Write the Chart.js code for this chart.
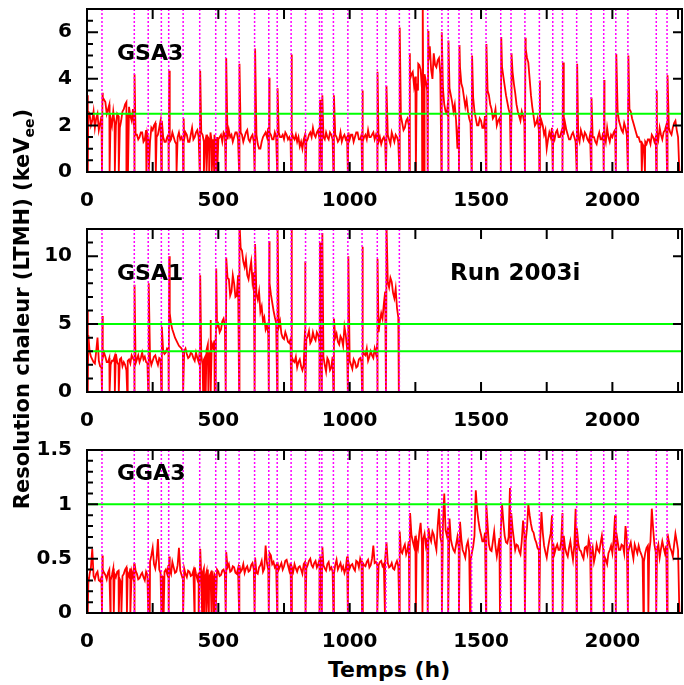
<!DOCTYPE html>
<html>
<head>
<meta charset="utf-8">
<title>Resolution chaleur - Run 2003i</title>
<script src="https://cdn.jsdelivr.net/npm/chart.js@4.4.1/dist/chart.umd.min.js"></script>
<style>
  body { margin: 0; background: #fff; }
  #page { position: relative; width: 684px; height: 685px; overflow: hidden;
          font-family: "DejaVu Sans", sans-serif; font-weight: bold; color: #000; }
  canvas { position: absolute; left: 0; }
  .lbl { position: absolute; white-space: nowrap; line-height: 1; }
  #ytitle { position: absolute; left: -228px; top: 294px; width: 500px; height: 30px;
            line-height: 30px; text-align: center; font-size: 21px; white-space: nowrap;
            transform: rotate(-90deg); }
  #ytitle span { font-size: 14px; vertical-align: -5px; line-height: 0; }
</style>
</head>
<body>
<div id="page">
  <canvas id="chartGSA3" width="684" height="210" style="top:0px"></canvas>
  <canvas id="chartGSA1" width="684" height="210" style="top:220px"></canvas>
  <canvas id="chartGGA3" width="684" height="210" style="top:441px"></canvas>
  <div class="lbl" style="left:117px; top:42px; font-size:22px;">GSA3</div>
  <div class="lbl" style="left:117px; top:262px; font-size:22px;">GSA1</div>
  <div class="lbl" style="left:450px; top:261px; font-size:23px;">Run 2003i</div>
  <div class="lbl" style="left:117px; top:462px; font-size:22px;">GGA3</div>
  <div class="lbl" style="left:328px; top:659px; font-size:22px;">Temps (h)</div>
  <div id="ytitle">Resolution chaleur (LTMH) (keV<span>ee</span>)</div>
</div>
<script>
// Axe des temps (h)
const xMax = 2265;
const xTicks = [0, 250, 500, 750, 1000, 1250, 1500, 1750, 2000, 2250];

// Calibrations (lignes pointillées magenta)
const calibTimes = [57, 180, 233, 283, 311, 366, 429, 490, 528, 579, 638, 692, 724, 777, 832,
  885, 894, 938, 993, 1047, 1105, 1138, 1189, 1227, 1297, 1351, 1375, 1416, 1464, 1519,
  1575, 1614, 1667, 1722, 1773, 1810, 1864, 1919, 1967, 2013, 2059, 2167, 2208];

// ---- GSA3 : valeurs à t = 0, 10, 20 ... 2250 h
const gsa3Base = [
  3.3, 2.5, 2.2, 1.9, 2.5, 2.1, 3.2, 3.0, 2.7, 2.3,
  2.6, 2.0, 2.4, 2.2, 2.7, 3.0, 2.8, 2.2, 1.8, 1.6,
  1.5, 1.7, 1.4, 1.6, 1.3, 1.8, 2.1, 1.6, 2.2, 1.5,
  1.3, 1.6, 1.4, 1.5, 1.2, 1.7, 1.5, 1.4, 1.6, 1.3,
  1.9, 1.5, 1.8, 1.4, 1.6, 1.3, 1.5, 1.7, 1.4, 1.2,
  1.4, 1.6, 1.7, 1.5, 1.8, 1.6, 1.5, 1.7, 1.4, 1.6,
  1.5, 1.8, 1.3, 1.6, 1.4, 1.2, 1.0, 1.5, 1.7, 1.9,
  1.6, 1.4, 1.5, 1.7, 1.5, 1.4, 1.6, 1.5, 1.7, 1.4,
  1.3, 1.1, 1.0, 1.6, 1.4, 1.7, 1.9, 1.5, 1.8, 1.6,
  1.5, 1.7, 1.4, 1.6, 1.9, 1.5, 1.4, 1.3, 1.6, 1.5,
  1.4, 1.6, 1.5, 1.7, 1.4, 1.3, 1.6, 1.8, 1.5, 1.7,
  1.6, 1.3, 1.2, 1.5, 1.1, 1.4, 1.7, 1.3, 1.5, 1.8,
  2.1, 1.9, 2.3, 4.0, 4.3, 4.1, 3.5, 4.4, 3.3, 3.9,
  4.8, 4.4, 5.1, 4.5, 4.9, 3.2, 2.9, 2.5, 3.6, 3.0,
  2.9, 1.0, 4.5, 3.6, 2.8, 2.6, 2.1, 3.2, 2.3, 2.0,
  2.2, 1.9, 4.0, 3.3, 2.7, 2.4, 2.0, 2.3, 4.5, 3.7,
  3.0, 2.5, 4.3, 3.4, 2.6, 2.2, 2.4, 5.3, 4.7, 3.3,
  2.4, 2.1, 1.8, 2.2, 1.6, 1.0, 1.7, 1.9, 1.4, 1.8,
  1.5, 1.9, 2.1, 1.6, 1.4, 1.7, 1.3, 1.5, 1.8, 1.4,
  1.6, 1.3, 1.8, 1.5, 1.2, 1.7, 1.4, 1.6, 1.9, 1.3,
  1.5, 1.8, 2.6, 2.0, 1.7, 1.9, 3.1, 2.6, 2.1, 1.7,
  1.5, 1.3, 1.1, 1.2, 1.4, 1.6, 1.3, 1.7, 1.9, 1.4,
  1.8, 2.3, 1.7, 1.9, 2.2, 1.5,
];
// GSA3 : valeurs à t = 5, 15, 25 ... 2245 h
const gsa3Mid = [
  2.6, 2.0, 2.6, 2.3, 1.8, 2.4, 3.1, 2.5, 2.9, 2.0,
  2.1, 2.5, 1.9, 2.6, 2.9, 2.5, 2.4, 2.7, 1.6, 1.4,
  1.7, 1.3, 1.8, 1.3, 1.9, 2.0, 1.5, 1.9, 1.7, 1.3,
  1.5, 1.3, 1.7, 1.3, 1.5, 1.4, 1.3, 1.7, 1.3, 1.6,
  1.4, 1.7, 1.5, 1.7, 1.3, 1.6, 1.4, 1.3, 1.6, 1.5,
  1.5, 1.3, 1.6, 1.4, 1.5, 1.3, 1.7, 1.4, 1.7, 1.3,
  1.7, 1.4, 1.5, 1.3, 1.6, 1.0, 1.3, 1.6, 1.5, 1.7,
  1.4, 1.7, 1.3, 1.5, 1.6, 1.7, 1.4, 1.3, 1.5, 1.6,
  1.5, 1.3, 1.4, 1.3, 1.6, 1.5, 1.6, 1.7, 1.4, 1.8,
  1.4, 1.5, 1.7, 1.4, 1.6, 1.3, 1.7, 1.5, 1.4, 1.7,
  1.6, 1.3, 1.7, 1.4, 1.6, 1.5, 1.4, 1.5, 1.6, 1.4,
  1.4, 1.5, 1.4, 1.3, 1.6, 1.2, 1.5, 1.6, 1.3, 2.4,
  1.8, 2.2, 2.0, 4.2, 3.7, 3.8, 4.6, 3.6, 4.2, 3.5,
  5.4, 4.0, 4.6, 4.8, 4.2, 3.6, 2.6, 3.1, 3.3, 2.6,
  2.2, 2.0, 3.8, 3.2, 3.1, 2.3, 2.5, 2.6, 2.0, 2.3,
  1.9, 2.4, 3.5, 2.9, 2.3, 2.7, 2.2, 1.9, 4.1, 3.3,
  2.7, 2.2, 3.8, 2.9, 2.4, 2.6, 2.1, 4.9, 4.0, 2.8,
  2.0, 2.3, 1.9, 2.0, 1.8, 1.4, 1.5, 1.6, 1.7, 1.5,
  1.7, 1.6, 1.8, 1.4, 1.6, 1.5, 1.7, 1.3, 1.6, 1.7,
  1.4, 1.6, 1.5, 1.3, 1.5, 1.4, 1.7, 1.3, 1.5, 1.6,
  1.7, 2.3, 2.2, 1.8, 2.1, 1.6, 2.7, 2.3, 1.9, 1.5,
  1.3, 1.2, 1.3, 1.4, 1.2, 1.5, 1.5, 1.4, 1.6, 1.7,
  2.0, 1.9, 1.6, 2.1, 1.8,
];
const gsa3Drops = [3, 57, 86, 106, 121, 150, 156, 180, 226, 235, 262, 283, 311, 341, 366, 429,
  445, 455, 465, 475, 484, 490, 496, 528, 579, 638, 692, 724, 777, 832, 885, 894, 938, 993,
  1047, 1105, 1138, 1189, 1227, 1252, 1276, 1284, 1297, 1349, 1375, 1416, 1464, 1519, 1575,
  1614, 1667, 1722, 1773, 1810, 1864, 1919, 1967, 2013, 2059, 2112, 2124, 2167, 2208, 2255];
const gsa3PeakT = [59, 182, 285, 313, 368, 431, 530, 581, 640, 694, 726, 779, 887, 896, 940,
  1049, 1107, 1140, 1191, 1229, 1261, 1278, 1299, 1351, 1377, 1418, 1466, 1521, 1577, 1616,
  1669, 1724, 1812, 1866, 1921, 1969, 2015, 2061, 2169, 2210];
const gsa3PeakV = [3.4, 4.2, 2.2, 4.35, 2.3, 4.35, 4.9, 4.65, 5.3, 4.05, 3.6, 5.05, 3.1, 3.3, 3.3,
  3.5, 4.3, 3.7, 6.2, 5.1, 4.65, 7.5, 6.05, 6.0, 5.65, 5.45, 5.0, 5.5, 5.8, 5.1,
  5.76, 3.93, 4.7, 4.65, 3.2, 3.95, 5.07, 5.0, 3.5, 4.15];
const gsa3Limits = [2.5];
const gsa3Major = [0, 2, 4, 6];
const gsa3Minor = [0.5, 1, 1.5, 2.5, 3, 3.5, 4.5, 5, 5.5, 6.5];

// ---- GSA1 : valeurs à t = 0, 10 ... 1190 h, détecteur arrêté ensuite
const gsa1Base = [
  6.0, 3.0, 2.4, 2.1, 4.0, 1.9, 2.5, 2.6, 2.2, 2.0,
  2.3, 2.8, 2.0, 2.5, 2.2, 1.6, 2.4, 2.7, 2.3, 2.4,
  2.2, 2.9, 2.6, 2.1, 2.5, 2.3, 2.7, 2.0, 2.4, 3.0,
  2.9, 3.1, 5.0, 4.3, 3.8, 3.4, 3.2, 3.0, 2.8, 2.6,
  2.8, 2.3, 2.5, 3.2, 2.0, 2.6, 3.5, 3.0, 3.3, 4.2,
  5.0, 4.6, 5.4, 7.6, 8.3, 7.4, 8.0, 7.1, 9.8, 10.4,
  9.2, 8.6, 9.0, 8.1, 7.6, 6.8, 5.9, 5.2, 4.6, 4.3,
  7.2, 6.0, 5.1, 4.8, 4.3, 3.9, 4.1, 3.6, 2.6, 2.2,
  1.8, 2.4, 1.6, 4.6, 4.1, 3.6, 4.4, 3.8, 4.2, 4.6,
  2.6, 1.5, 2.3, 1.8, 3.6, 4.3, 3.5, 3.9, 4.8, 3.2,
  2.3, 1.7, 2.2, 1.9, 2.5, 3.1, 2.7, 2.3, 3.0, 2.5,
  2.8, 4.4, 5.8, 6.5, 8.8, 7.7, 8.1, 6.9, 6.2, 0,
];
// GSA1 : valeurs à t = 5, 15 ... 1185 h
const gsa1Mid = [
  4.2, 2.6, 2.2, 3.0, 2.3, 1.8, 2.9, 2.2, 2.5, 2.3,
  2.6, 2.2, 2.4, 1.9, 2.0, 2.3, 2.1, 2.5, 2.1, 2.7,
  2.5, 2.4, 2.2, 2.6, 2.0, 2.6, 2.3, 2.5, 2.7, 2.8,
  3.2, 5.8, 4.6, 4.0, 3.6, 3.3, 2.9, 3.2, 2.5, 2.9,
  2.5, 2.9, 2.2, 2.7, 2.4, 3.1, 2.8, 3.6, 3.8, 4.8,
  4.4, 5.2, 4.8, 8.4, 7.1, 8.6, 7.0, 8.6, 10.6, 9.6,
  9.8, 8.3, 9.6, 8.8, 7.2, 7.4, 6.3, 5.5, 4.9, 8.0,
  6.6, 5.5, 4.5, 5.2, 4.0, 4.4, 3.7, 3.9, 2.3, 2.6,
  2.2, 1.9, 2.0, 3.9, 4.5, 3.8, 4.0, 4.4, 3.6, 4.0,
  2.0, 2.5, 1.6, 2.6, 4.0, 3.7, 4.1, 3.4, 4.2, 2.8,
  2.0, 2.4, 1.8, 2.4, 2.2, 2.8, 3.2, 2.6, 2.7, 3.2,
  3.6, 5.2, 5.4, 7.4, 8.1, 8.4, 7.3, 7.6, 5.5,
];
const gsa1Drops = [3, 57, 86, 106, 121, 153, 180, 233, 283, 311, 366, 430, 442, 452, 462, 472,
  486, 490, 528, 579, 638, 692, 724, 777, 832, 885, 894, 938, 993, 1047, 1105, 1138, 1187, 2255];
const gsa1PeakT = [59, 182, 235, 285, 313, 431, 470, 492, 530, 581, 640, 694, 726, 779, 830,
  887, 896, 940, 995, 1049, 1107, 1140];
const gsa1PeakV = [5.6, 7.9, 8.0, 4.8, 10.0, 8.6, 5.3, 9.1, 9.9, 12.5, 10.9, 11.1, 12.5, 12.5, 9.6,
  11.0, 11.7, 5.4, 10.0, 10.7, 9.8, 12.5];
const gsa1Limits = [3, 5];
const gsa1LastCalib = 1189;
const gsa1Major = [0, 5, 10];
const gsa1Minor = [1, 2, 3, 4, 6, 7, 8, 9, 11];

// ---- GGA3 : valeurs à t = 0, 10 ... 2250 h
const gga3Base = [
  0.33, 0.36, 0.59, 0.31, 0.38, 0.29, 0.40, 0.35, 0.37, 0.30,
  0.41, 0.33, 0.39, 0.28, 0.36, 0.42, 0.34, 0.38, 0.46, 0.36,
  0.32, 0.37, 0.30, 0.35, 0.47, 0.60, 0.41, 0.68, 0.37, 0.33,
  0.40, 0.44, 0.36, 0.42, 0.38, 0.60, 0.35, 0.41, 0.33, 0.38,
  0.35, 0.42, 0.31, 0.44, 0.37, 0.33, 0.40, 0.36, 0.30, 0.34,
  0.38, 0.35, 0.40, 0.37, 0.45, 0.39, 0.42, 0.36, 0.44, 0.40,
  0.37, 0.43, 0.39, 0.46, 0.41, 0.36, 0.44, 0.38, 0.62, 0.40,
  0.53, 0.47, 0.44, 0.40, 0.46, 0.43, 0.49, 0.39, 0.42, 0.45,
  0.38, 0.43, 0.36, 0.47, 0.44, 0.50, 0.42, 0.48, 0.45, 0.52,
  0.44, 0.39, 0.47, 0.42, 0.36, 0.49, 0.43, 0.40, 0.37, 0.52,
  0.41, 0.45, 0.39, 0.47, 0.50, 0.46, 0.43, 0.49, 0.44, 0.62,
  0.47, 0.44, 0.48, 0.45, 0.65, 0.42, 0.46, 0.40, 0.48, 0.61,
  0.55, 0.63, 0.58, 0.92, 0.66, 0.71, 0.60, 0.83, 0.68, 0.62,
  0.78, 0.66, 0.72, 0.58, 0.96, 0.64, 1.10, 0.71, 0.87, 0.62,
  0.56, 0.70, 0.84, 0.58, 0.51, 0.66, 0.48, 0.61, 1.13, 0.85,
  0.72, 0.66, 1.00, 0.63, 0.57, 0.75, 0.52, 0.69, 1.00, 0.71,
  0.64, 1.15, 0.78, 0.58, 0.62, 0.54, 0.85, 0.66, 1.00, 0.82,
  0.74, 0.65, 0.58, 0.93, 0.62, 0.51, 0.67, 0.90, 0.55, 0.63,
  0.58, 0.92, 0.60, 0.52, 0.66, 0.49, 0.96, 0.64, 0.57, 0.50,
  0.61, 0.68, 0.54, 0.47, 0.63, 0.56, 0.71, 0.52, 0.45, 0.58,
  0.55, 0.90, 0.66, 0.58, 0.62, 0.80, 0.56, 0.65, 0.50, 0.59,
  0.62, 0.54, 0.47, 0.60, 0.56, 0.96, 0.63, 0.58, 0.51, 0.66,
  0.55, 0.73, 0.60, 0.52, 0.73, 0.58,
];
// GGA3 : valeurs à t = 5, 15 ... 2245 h
const gga3Mid = [
  0.27, 0.42, 0.34, 0.36, 0.30, 0.33, 0.37, 0.31, 0.40, 0.35,
  0.36, 0.38, 0.31, 0.34, 0.40, 0.37, 0.41, 0.33, 0.39, 0.31,
  0.35, 0.33, 0.38, 0.31, 0.53, 0.45, 0.50, 0.40, 0.34, 0.38,
  0.36, 0.40, 0.47, 0.37, 0.44, 0.39, 0.31, 0.36, 0.39, 0.34,
  0.39, 0.36, 0.37, 0.34, 0.41, 0.38, 0.33, 0.39, 0.36, 0.40,
  0.34, 0.39, 0.36, 0.42, 0.38, 0.43, 0.37, 0.41, 0.38, 0.45,
  0.41, 0.38, 0.44, 0.40, 0.37, 0.42, 0.48, 0.41, 0.46, 0.55,
  0.45, 0.42, 0.47, 0.43, 0.40, 0.48, 0.44, 0.46, 0.38, 0.41,
  0.42, 0.40, 0.45, 0.41, 0.48, 0.44, 0.46, 0.42, 0.49, 0.45,
  0.41, 0.45, 0.40, 0.38, 0.44, 0.40, 0.46, 0.43, 0.41, 0.47,
  0.44, 0.41, 0.48, 0.42, 0.46, 0.44, 0.47, 0.42, 0.50, 0.46,
  0.44, 0.47, 0.43, 0.50, 0.46, 0.43, 0.41, 0.45, 0.43, 0.57,
  0.60, 0.54, 0.66, 0.72, 0.61, 0.66, 0.74, 0.64, 0.73, 0.69,
  0.70, 0.75, 0.64, 0.80, 0.70, 0.82, 0.76, 0.79, 0.68, 0.58,
  0.63, 0.60, 0.68, 0.55, 0.62, 0.56, 0.55, 0.71, 0.95, 0.77,
  0.66, 0.74, 0.81, 0.58, 0.66, 0.61, 0.60, 0.75, 0.84, 0.65,
  0.70, 0.92, 0.68, 0.63, 0.57, 0.66, 0.72, 0.78, 0.90, 0.76,
  0.68, 0.60, 0.66, 0.74, 0.56, 0.60, 0.73, 0.64, 0.60, 0.58,
  0.66, 0.71, 0.55, 0.60, 0.57, 0.62, 0.78, 0.58, 0.53, 0.60,
  0.55, 0.62, 0.60, 0.53, 0.58, 0.64, 0.59, 0.49, 0.55, 0.62,
  0.68, 0.74, 0.58, 0.63, 0.55, 0.68, 0.61, 0.57, 0.63, 0.55,
  0.57, 0.50, 0.55, 0.62, 0.66, 0.78, 0.56, 0.63, 0.59, 0.60,
  0.62, 0.66, 0.57, 0.63, 0.66,
];
const gga3Drops = [3, 57, 89, 102, 121, 131, 152, 165, 180, 233, 239, 283, 292, 311, 366, 409,
  425, 438, 447, 455, 464, 474, 483, 490, 528, 579, 638, 692, 724, 777, 832, 885, 894, 938,
  993, 1047, 1105, 1134, 1189, 1227, 1252, 1277, 1297, 1351, 1375, 1416, 1458, 1519, 1572,
  1614, 1667, 1722, 1773, 1810, 1864, 1919, 1967, 2013, 2059, 2118, 2137, 2167, 2208, 2255];
const gga3PeakT = [59, 182, 313, 431, 530, 640, 896, 1191];
const gga3PeakV = [0.53, 0.46, 0.52, 0.59, 0.56, 0.51, 0.61, 0.75];
const gga3Limits = [1];
const gga3Major = [0, 0.5, 1, 1.5];
const gga3Minor = [0.1, 0.2, 0.3, 0.4, 0.6, 0.7, 0.8, 0.9, 1.1, 1.2, 1.3, 1.4];

const tickFont = { family: "'DejaVu Sans', sans-serif", size: 20, weight: "bold" };

// Assemble les points : mesures + coupures à 0 + pics après calibration
function buildPoints(base, mid, drops, peakT, peakV) {
  const pts = [];
  base.forEach((v, i) => pts.push({ x: i * 10, y: v }));
  mid.forEach((v, i) => pts.push({ x: i * 10 + 5, y: v }));
  drops.forEach((t) => pts.push({ x: t, y: 0 }));
  peakT.forEach((t, i) => pts.push({ x: t, y: peakV[i] }));
  return pts.sort((a, b) => a.x - b.x);
}

// Cadre, graduations vers l'intérieur et lignes de calibration
const cadrePlugin = {
  id: "cadre",
  afterDatasetsDraw(chart, args, opts) {
    const ctx = chart.ctx;
    const a = chart.chartArea;
    const sx = chart.scales.x;
    const sy = chart.scales.y;
    ctx.save();
    ctx.strokeStyle = "#ff00ff";
    ctx.lineWidth = 1.5;
    ctx.setLineDash([2, 2]);
    opts.calib.forEach((t) => {
      const px = sx.getPixelForValue(t);
      ctx.beginPath();
      ctx.moveTo(px, a.top);
      ctx.lineTo(px, a.bottom);
      ctx.stroke();
    });
    ctx.setLineDash([]);
    ctx.strokeStyle = "#000";
    ctx.lineWidth = 2;
    ctx.strokeRect(a.left, a.top, a.right - a.left, a.bottom - a.top);
    ctx.beginPath();
    xTicks.forEach((v) => {
      const px = sx.getPixelForValue(v);
      ctx.moveTo(px, a.bottom);
      ctx.lineTo(px, a.bottom - 10);
      ctx.moveTo(px, a.top);
      ctx.lineTo(px, a.top + 10);
    });
    opts.yMinor.forEach((v) => {
      const py = sy.getPixelForValue(v);
      ctx.moveTo(a.left, py);
      ctx.lineTo(a.left + 6, py);
    });
    opts.yMajor.forEach((v) => {
      const py = sy.getPixelForValue(v);
      ctx.moveTo(a.left, py);
      ctx.lineTo(a.left + 11, py);
      ctx.moveTo(a.right, py);
      ctx.lineTo(a.right - 9, py);
    });
    ctx.stroke();
    ctx.restore();
  },
};

function makePanel(canvasId, series, limits, yMax, yMajor, yMinor, calib) {
  const ctx = document.getElementById(canvasId).getContext("2d");
  const datasets = limits.map((v) => ({
    data: [{ x: 0, y: v }, { x: xMax, y: v }],
    borderColor: "#00ff00",
    borderWidth: 2,
    order: 0,
  }));
  datasets.push({ data: series, borderColor: "#ff0000", borderWidth: 1.8, order: 1 });

  return new Chart(ctx, {
    type: "line",
    data: { datasets: datasets },
    options: {
      responsive: false,
      animation: false,
      devicePixelRatio: 1,
      layout: { padding: { top: 9, right: 2, left: 0, bottom: 0 } },
      elements: { point: { radius: 0 }, line: { tension: 0 } },
      plugins: {
        legend: { display: false },
        tooltip: { enabled: false },
        cadre: { calib: calib, yMajor: yMajor, yMinor: yMinor },
      },
      scales: {
        x: {
          type: "linear",
          min: 0,
          max: xMax,
          grid: { display: false },
          border: { display: false },
          ticks: {
            autoSkip: false,
            maxRotation: 0,
            padding: 9,
            color: "#000",
            font: tickFont,
            callback: (v, i, ticks) => (ticks[i].value % 500 === 0 ? String(ticks[i].value) : ""),
          },
          afterBuildTicks: (s) => { s.ticks = xTicks.map((v) => ({ value: v })); },
          afterFit: (s) => { s.height = 38; s.paddingLeft = 0; s.paddingRight = 0; },
        },
        y: {
          min: 0,
          max: yMax,
          grid: { display: false },
          border: { display: false },
          ticks: {
            autoSkip: false,
            padding: 7,
            color: "#000",
            font: tickFont,
            callback: (v, i, ticks) => String(ticks[i].value),
          },
          afterBuildTicks: (s) => { s.ticks = yMajor.map((v) => ({ value: v })); },
          afterFit: (s) => { s.width = 87; s.paddingTop = 0; s.paddingBottom = 0; },
        },
      },
    },
    plugins: [cadrePlugin],
  });
}

makePanel("chartGSA3", buildPoints(gsa3Base, gsa3Mid, gsa3Drops, gsa3PeakT, gsa3PeakV),
  gsa3Limits, 7, gsa3Major, gsa3Minor, calibTimes);
makePanel("chartGSA1", buildPoints(gsa1Base, gsa1Mid, gsa1Drops, gsa1PeakT, gsa1PeakV),
  gsa1Limits, 12, gsa1Major, gsa1Minor, calibTimes.filter((t) => t <= gsa1LastCalib));
makePanel("chartGGA3", buildPoints(gga3Base, gga3Mid, gga3Drops, gga3PeakT, gga3PeakV),
  gga3Limits, 1.5, gga3Major, gga3Minor, calibTimes);
</script>
</body>
</html>
